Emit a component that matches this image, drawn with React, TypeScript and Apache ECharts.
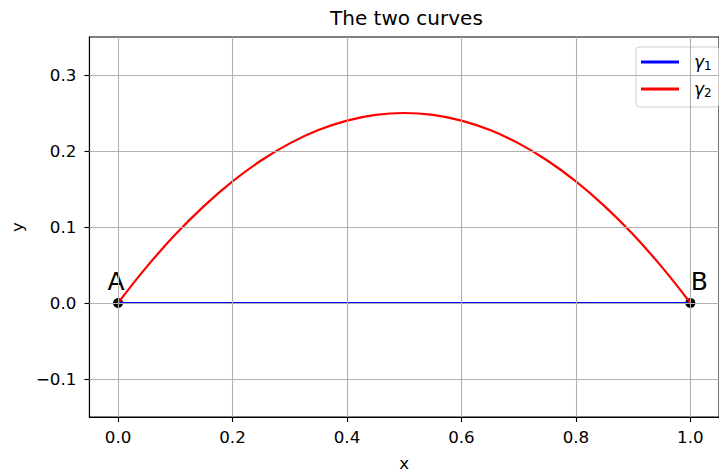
import React, { useEffect, useRef } from "react";
import * as echarts from "echarts";

const xs = [0, 0.05, 0.1, 0.15, 0.2, 0.25, 0.3, 0.35, 0.4, 0.45, 0.5, 0.55, 0.6, 0.65, 0.7, 0.75, 0.8, 0.85, 0.9, 0.95, 1];
const gamma1 = [0, 0, 0, 0, 0, 0, 0, 0, 0, 0, 0, 0, 0, 0, 0, 0, 0, 0, 0, 0, 0];
const gamma2 = [0, 0.0475, 0.09, 0.1275, 0.16, 0.1875, 0.21, 0.2275, 0.24, 0.2475, 0.25, 0.2475, 0.24, 0.2275, 0.21, 0.1875, 0.16, 0.1275, 0.09, 0.0475, 0];
const pointNames = ["A", "B"];
const pointX = [0, 1];
const pointY = [0, 0];
const xTicks = [0, 0.2, 0.4, 0.6, 0.8, 1.0];
const yTicks = [-0.1, 0, 0.1, 0.2, 0.3];

const FONT = "DejaVu Sans";

export default function App() {
  const ref = useRef<HTMLDivElement>(null);
  useEffect(() => {
    if (!ref.current) return;
    const chart = echarts.init(ref.current, null, { renderer: "svg" });
    const fmt = (v: number) => (v < 0 ? "\u2212" + Math.abs(v).toFixed(1) : v.toFixed(1));
    const gridLine = { color: "#b0b0b0", width: 1.1, type: "solid" as const };
    chart.setOption({
      animation: false,
      backgroundColor: "#fff",
      title: {
        text: "The two curves",
        left: 325,
        top: 3,
        textStyle: { fontFamily: FONT, fontSize: 20, fontWeight: "normal", color: "#000" },
      },
      legend: {
        data: ["γ1", "γ2"],
        orient: "vertical",
        left: 636,
        top: 47,
        backgroundColor: "rgba(255,255,255,0.8)",
        borderColor: "#cccccc",
        borderWidth: 1,
        borderRadius: 3,
        padding: [5, 7, 8, 5],
        itemWidth: 38,
        itemHeight: 3,
        itemGap: 7,
        icon: "rect",
        formatter: (name: string) => "{g|γ}{s|" + name.slice(1) + "}",
        textStyle: {
          fontFamily: FONT,
          color: "#000",
          lineHeight: 20,
          padding: [0, 0, 0, 10],
          rich: {
            g: { fontFamily: FONT, fontSize: 17, fontStyle: "italic", color: "#000", lineHeight: 20 },
            s: { fontFamily: FONT, fontSize: 12, color: "#000", lineHeight: 20, padding: [8, 0, 0, 0] },
          },
        },
      },
      grid: {
        left: 86,
        top: 37,
        right: -7,
        bottom: 52,
        show: true,
        borderColor: "#000",
        borderWidth: 1.1,
        containLabel: false,
      },
      xAxis: {
        type: "value",
        min: -0.05,
        max: 1.05,
        name: "x",
        nameLocation: "middle",
        nameGap: 37,
        nameTextStyle: { fontFamily: FONT, fontSize: 16.7, color: "#000" },
        axisLine: { show: true, onZero: false, lineStyle: { color: "#000", width: 1.1 } },
        axisTick: { show: true, inside: false, length: 5, customValues: xTicks, lineStyle: { color: "#000", width: 1.1 } },
        axisLabel: {
          customValues: xTicks,
          margin: 11,
          fontFamily: FONT,
          fontSize: 16.7,
          color: "#000",
          formatter: (v: number) => fmt(v),
        },
        splitLine: { show: false },
      },
      yAxis: {
        type: "value",
        min: -0.15,
        max: 0.35,
        name: "y",
        nameLocation: "middle",
        nameGap: 64,
        nameTextStyle: { fontFamily: FONT, fontSize: 16.7, color: "#000" },
        axisLine: { show: true, onZero: false, lineStyle: { color: "#000", width: 1.1 } },
        axisTick: { show: true, inside: false, length: 5, customValues: yTicks, lineStyle: { color: "#000", width: 1.1 } },
        axisLabel: {
          customValues: yTicks,
          margin: 13,
          fontFamily: FONT,
          fontSize: 16.7,
          color: "#000",
          formatter: (v: number) => fmt(v),
        },
        splitLine: { show: false },
      },
      series: [
        {
          name: "gridlines",
          type: "line",
          data: [],
          z: 0,
          silent: true,
          markLine: {
            silent: true,
            symbol: "none",
            animation: false,
            label: { show: false },
            lineStyle: gridLine,
            emphasis: { disabled: true },
            data: [
              ...xTicks.map((v) => ({ xAxis: v })),
              ...yTicks.map((v) => ({ yAxis: v })),
            ],
          },
        },
        {
          name: "points",
          type: "scatter",
          z: 2,
          symbolSize: 10,
          itemStyle: { color: "#000", opacity: 1 },
          data: pointNames.map((n, i) => ({
            name: n,
            value: [pointX[i], pointY[i]],
            label: { offset: i === 0 ? [-2, 0] : [9, 0] },
          })),
          label: {
            show: true,
            position: "top",
            distance: 4,
            formatter: (p: any) => p.name,
            fontFamily: FONT,
            fontSize: 25,
            color: "#000",
            opacity: 1,
          },
        },
        {
          name: "γ1",
          type: "line",
          z: 3,
          showSymbol: false,
          symbol: "none",
          color: "#0000ff",
          lineStyle: { color: "#0000ff", width: 2.2 },
          data: xs.map((x, i) => [x, gamma1[i]]),
        },
        {
          name: "γ2",
          type: "line",
          z: 4,
          showSymbol: false,
          symbol: "none",
          smooth: 0.4,
          color: "#ff0000",
          lineStyle: { color: "#ff0000", width: 2.2 },
          data: xs.map((x, i) => [x, gamma2[i]]),
        },
      ],
    });
    return () => chart.dispose();
  }, []);
  return <div ref={ref} style={{ position: "absolute", left: 0, top: 0, width: 719, height: 476 }} />;
}
